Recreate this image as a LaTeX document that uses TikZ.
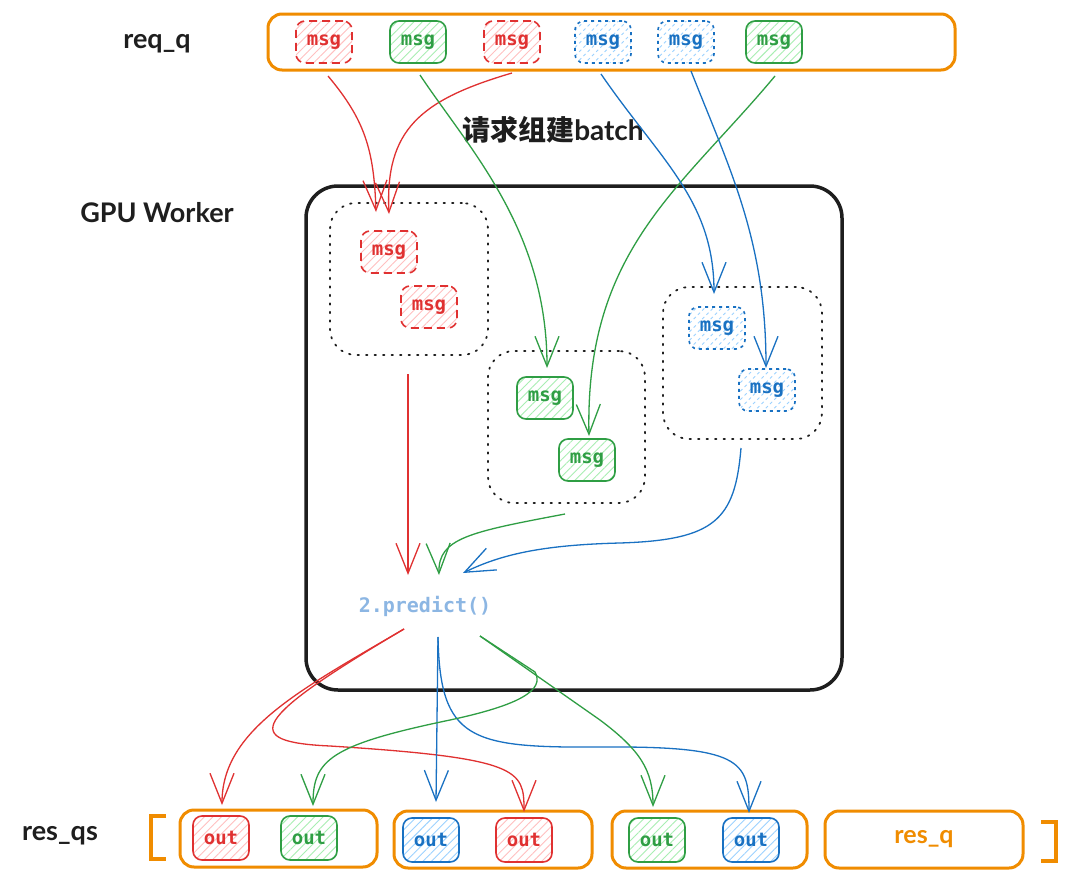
\documentclass[tikz,border=0pt]{standalone}
\usepackage{fontspec}
\setmainfont{Lato}
\newfontfamily\monof{DejaVu Sans Mono}
\newfontfamily\cjk{Noto Sans CJK SC}
\usetikzlibrary{arrows.meta,patterns.meta}
\definecolor{cred}{HTML}{E03131}
\definecolor{cgreen}{HTML}{2F9E44}
\definecolor{cblue}{HTML}{1971C2}
\definecolor{corange}{HTML}{F08C00}
\definecolor{lred}{HTML}{FFC0C0}
\definecolor{lgreen}{HTML}{A8EEB2}
\definecolor{lblue}{HTML}{9CD2FF}
\definecolor{cpred}{HTML}{8CB6E3}
\definecolor{cink}{HTML}{1E1E1E}
\tikzset{
  x=1pt, y=-1pt,
  hatch/.style={pattern={Lines[angle=45,distance=6pt,line width=0.9pt]}, pattern color=#1},
  box/.style={minimum width=56pt, minimum height=42pt, rounded corners=9pt, inner sep=0pt,
    line width=1.6pt, font=\monof\bfseries\fontsize{19}{19}\selectfont},
  rmsg/.style={box, draw=cred, text=cred, dash pattern=on 8pt off 5pt, hatch=lred},
  gmsg/.style={box, draw=cgreen, text=cgreen, hatch=lgreen},
  bmsg/.style={box, draw=cblue, text=cblue, dash pattern=on 3pt off 4pt, hatch=lblue},
  rout/.style={box, draw=cred, text=cred, hatch=lred, minimum height=44pt},
  gout/.style={box, draw=cgreen, text=cgreen, hatch=lgreen, minimum height=44pt},
  bout/.style={box, draw=cblue, text=cblue, hatch=lblue, minimum height=44pt},
  queue/.style={draw=corange, line width=3pt, rounded corners=14pt, inner sep=0pt},
  group/.style={draw=cink, line width=1.8pt, dash pattern=on 1.5pt off 7pt, line cap=round, rounded corners=26pt, inner sep=0pt},
  label/.style={text=cink, font=\bfseries\fontsize{27}{27}\selectfont},
  conn/.style={line width=1.3pt, -{Straight Barb[length=30pt,width=24pt,line width=1.3pt]}},
}
\begin{document}
\begin{tikzpicture}
\useasboundingbox (0,0) rectangle (1080,894);
\fill[white] (0,0) rectangle (1080,894);

% labels
\node[label] (lreq) at (157,44) {req\_q};
\node[label] (lgpu) at (157,213) {GPU Worker};
\node[label] (lres) at (60,836) {res\_qs};
\node[text=cink, font=\bfseries\fontsize{28}{28}\selectfont] (lbatch) at (553,130) {{\cjk 请求组建}batch};

% request queue
\node[queue, minimum width=687pt, minimum height=56pt] (reqq) at (611.5,42) {};
\node[rmsg] (q1) at (324,42) {msg};
\node[gmsg] (q2) at (418,42) {msg};
\node[rmsg] (q3) at (512,42) {msg};
\node[bmsg] (q4) at (603,42) {msg};
\node[bmsg] (q5) at (686,42) {msg};
\node[gmsg] (q6) at (774,42) {msg};

% GPU worker
\node[draw=cink, line width=3.5pt, rounded corners=32pt, minimum width=536pt, minimum height=504pt, inner sep=0pt] (gpu) at (574,438) {};

% groups
\node[group, minimum width=158pt, minimum height=152pt] (gr) at (409,279) {};
\node[group, minimum width=157pt, minimum height=152pt] (gg) at (566.5,427) {};
\node[group, minimum width=159pt, minimum height=152pt] (gb) at (742.5,363) {};

\node[rmsg] (r1) at (389,252) {msg};
\node[rmsg] (r2) at (429,307) {msg};
\node[gmsg] (g1) at (545,398) {msg};
\node[gmsg] (g2) at (587,460) {msg};
\node[bmsg] (b1) at (717,328) {msg};
\node[bmsg] (b2) at (767,390) {msg};

% predict
\node[text=cpred, font=\monof\bfseries\fontsize{20}{20}\selectfont] (pred) at (425,606) {2.predict()};

% result queues
\node[queue, minimum width=197pt, minimum height=57pt] (rq1) at (278.5,838.5) {};
\node[queue, minimum width=198pt, minimum height=57pt] (rq2) at (493,839.5) {};
\node[queue, minimum width=195pt, minimum height=57pt] (rq3) at (709.5,839.5) {};
\node[queue, minimum width=198pt, minimum height=57pt, text=corange, font=\bfseries\fontsize{25}{25}\selectfont] (rq4) at (924,839.5) {res\_q};
\node[rout] (o1) at (221,838) {out};
\node[gout] (o2) at (309,838) {out};
\node[bout] (o3) at (431,840) {out};
\node[rout] (o4) at (524,840) {out};
\node[gout] (o5) at (657,840) {out};
\node[bout] (o6) at (751,840) {out};

% brackets
\draw[corange, line width=4.5pt] (166,816) -- (151,816) -- (151,859) -- (166,859);
\draw[corange, line width=4.5pt] (1041,822) -- (1056,822) -- (1056,861) -- (1041,861);

% endpoints
\coordinate (s1) at (328,76);
\coordinate (s2) at (420,75);
\coordinate (s3) at (512,73);
\coordinate (s4) at (601,74);
\coordinate (s5) at (691,71);
\coordinate (s6) at (775,76);
\coordinate (e1) at (376,212);
\coordinate (e3) at (389,214);
\coordinate (e2) at (547,368);
\coordinate (e6) at (589,436);
\coordinate (e4) at (714,294);
\coordinate (e5) at (766,368);

\coordinate (mr) at (408,374);
\coordinate (mg) at (565,514);
\coordinate (mb) at (741,448);
\coordinate (pr) at (408,575);
\coordinate (pg) at (439,575);
\coordinate (pb) at (463,573);

\coordinate (dr) at (404,629);
\coordinate (db) at (438,637);
\coordinate (dg) at (480,636);
\coordinate (t1) at (222,805);
\coordinate (t2) at (313,806);
\coordinate (t3) at (436,802);
\coordinate (t4) at (524,812);
\coordinate (t5) at (653,807);
\coordinate (t6) at (749,813);

% top connectors
\draw[conn, cred] (s1) .. controls (365,120) and (374,150) .. (e1);
\draw[conn, cred] (s3) .. controls (420,100) and (385,130) .. (e3);
\draw[conn, cgreen] (s2) .. controls (470,150) and (547,230) .. (e2);
\draw[conn, cgreen] (s6) .. controls (680,190) and (585,250) .. (e6);
\draw[conn, cblue] (s4) .. controls (660,160) and (714,200) .. (e4);
\draw[conn, cblue] (s5) .. controls (730,170) and (766,240) .. (e5);

% middle connectors
\draw[conn, cred] (mr) -- (pr);
\draw[conn, cgreen] (mg) .. controls (470,532) and (438,538) .. (pg);
\draw[conn, cblue] (mb) .. controls (735,520) and (715,540) .. (620,543) .. controls (540,545) and (500,555) .. (pb);

% bottom connectors
\draw[conn, cred] (dr) .. controls (300,690) and (222,730) .. (t1);
\draw[conn, cred] (dr) .. controls (250,720) and (240,742) .. (330,746) .. controls (520,758) and (524,770) .. (t4);
\draw[conn, cblue] (db) -- (t3);
\draw[conn, cblue] (db) .. controls (440,740) and (470,748) .. (600,747) .. controls (740,746) and (749,760) .. (t6);
\draw[conn, cgreen] (dg) -- (535,672) .. controls (545,690) and (520,705) .. (450,720) .. controls (330,745) and (313,760) .. (t2);
\draw[conn, cgreen] (dg) -- (600,720) .. controls (640,750) and (653,770) .. (t5);
\end{tikzpicture}
\end{document}
